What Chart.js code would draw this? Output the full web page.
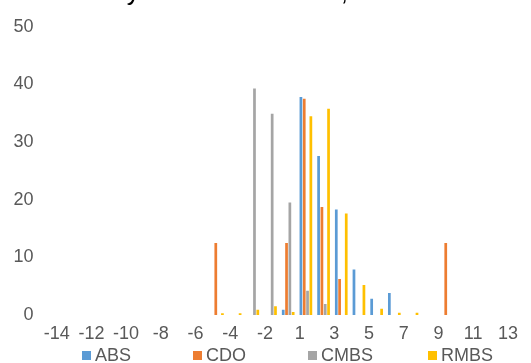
<!DOCTYPE html>
<html>
<head>
<meta charset="utf-8">
<script src="https://cdn.jsdelivr.net/npm/chart.js@4/dist/chart.umd.min.js"></script>
<style>
html,body{margin:0;padding:0;background:#fff;overflow:hidden}
#wrap{position:relative;width:531px;height:363px;overflow:hidden;font-family:'Liberation Sans',Arial,sans-serif;background:#fff}
#title{position:absolute;left:30px;top:-22px;font-size:26px;line-height:26px;color:#000;white-space:nowrap}
#chart{position:absolute;left:0;top:0}
.lgbox{position:absolute;width:9px;height:9px}
.lgtxt{position:absolute;font-size:18px;line-height:20px;color:#595959;white-space:nowrap}
</style>
</head>
<body>
<div id="wrap">
  <canvas id="chart" width="531" height="363"></canvas>
  <div id="title">Recovery in ABS and CDO, but not CMBS</div>
  <div id="legend"></div>
</div>
<script>
// ---- data ----
const categories = ['-14','-13','-12','-11','-10','-9','-8','-7','-6','-5','-4','-3','-2','-1',
                    '1','2','3','4','5','6','7','8','9','10','11','12','13'];
const seriesNames = ['ABS','CDO','CMBS','RMBS'];
const ABS  = [null,null,null,null,null,null,null,null,null,null,null,null,null,0.9,
              37.8,27.6,18.3,7.9,2.8,3.8,null,null,null,null,null,null,null];
const CDO  = [null,null,null,null,null,null,null,null,null,12.5,null,null,null,12.5,
              37.5,18.75,6.25,null,null,null,null,null,12.5,null,null,null,null];
const CMBS = [null,null,null,null,null,null,null,null,null,null,null,39.3,34.9,19.5,
              4.2,1.9,null,null,null,null,null,null,null,null,null,null,null];
const RMBS = [null,null,null,null,null,null,null,null,null,0.3,0.3,0.9,1.5,0.5,
              34.5,35.8,17.6,5.2,1.1,0.4,0.4,null,null,null,null,null,null];
const yTicks = [0,10,20,30,40,50];
const xTickIndex = [0,2,4,6,8,10,12,14,16,18,20,22,24,26];

// ---- style ----
const colors = ['#5B9BD5','#ED7D31','#A5A5A5','#FFC000'];
const legendX = [82,193,308,428];
const FONT = "'Liberation Sans', Arial, sans-serif";
const GREY = '#595959';
const X2MIN = -0.42, X2MAX = 27.10;

const values = [ABS, CDO, CMBS, RMBS];
const datasets = seriesNames.map((n,i)=>({
  label:n, data:values[i], backgroundColor:colors[i], borderWidth:0,
  barPercentage:0.82, categoryPercentage:0.75
}));

new Chart(document.getElementById('chart'), {
  type:'bar',
  data:{labels:categories, datasets},
  options:{
    responsive:false, animation:false, devicePixelRatio:1,
    layout:{padding:{left:0,right:4,top:23,bottom:18}},
    plugins:{legend:{display:false}, tooltip:{enabled:false}, title:{display:false}},
    scales:{
      x:{type:'category', display:false, grid:{display:false}},
      x2:{type:'linear', position:'bottom', min:X2MIN, max:X2MAX, bounds:'data', offset:false,
          grid:{display:false, drawTicks:false, offset:false}, border:{display:false},
          afterBuildTicks:s=>{ s.ticks = xTickIndex.map(v=>({value:v})); s.min = X2MIN; s.max = X2MAX; },
          afterFit:s=>{ s.height = 30; },
          ticks:{autoSkip:false, maxRotation:0, minRotation:0, padding:8, includeBounds:false,
                 color:GREY, font:{family:FONT,size:18},
                 callback:v=>categories[v] ?? ''}},
      y:{min:0, max:50, grid:{display:false, drawTicks:false}, border:{display:false},
         afterBuildTicks:s=>{ s.ticks = yTicks.map(v=>({value:v})); },
         afterFit:s=>{ s.width = 49.4; },
         ticks:{padding:16, color:GREY, font:{family:FONT,size:18}}}
    }
  }
});

// legend (HTML)
const lg = document.getElementById('legend');
seriesNames.forEach((n,i)=>{
  const b = document.createElement('div');
  b.className='lgbox'; b.style.left=legendX[i]+'px'; b.style.top='351px'; b.style.background=colors[i];
  const t = document.createElement('div');
  t.className='lgtxt'; t.style.left=(legendX[i]+13)+'px'; t.style.top='345px'; t.textContent=n;
  lg.appendChild(b); lg.appendChild(t);
});
</script>
</body>
</html>
